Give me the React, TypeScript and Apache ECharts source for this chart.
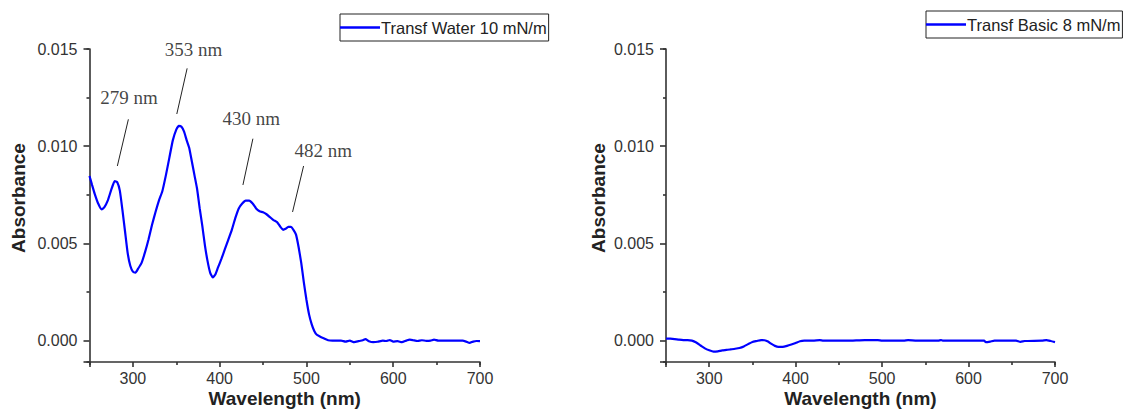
import React, { useEffect, useRef } from "react";
import * as echarts from "echarts";

const waterX = [250,253,256,260,264,267,271,275,279,282,285,288,291,294,297,300,303,306,310,314,318,322,326,330,334,338,342,346,350,353,356,359,362,365,368,371,374,377,380,383,386,389,392,395,398,402,406,410,414,418,422,426,430,434,438,442,446,450,454,458,462,466,470,473,476,479,482,485,488,491,494,497,500,503,506,509,512,516,520,525,530,540,545,550,555,560,565,568,572,577,582,588,592,596,600,605,610,615,619,623,628,633,638,643,647,652,660,670,680,684,688,692,696,700];
const waterY = [8.47,8.0,7.55,7.05,6.75,6.85,7.2,7.75,8.2,8.15,7.7,6.7,5.6,4.5,3.85,3.55,3.5,3.7,4.0,4.55,5.2,5.95,6.6,7.2,7.7,8.5,9.4,10.3,10.85,11.05,11.0,10.75,10.3,9.9,9.2,8.5,7.8,6.8,5.9,4.9,4.1,3.5,3.25,3.4,3.75,4.2,4.7,5.2,5.7,6.3,6.8,7.05,7.2,7.2,7.05,6.8,6.65,6.6,6.5,6.35,6.2,6.1,5.85,5.7,5.75,5.85,5.85,5.7,5.45,4.8,4.0,3.0,2.1,1.35,0.85,0.5,0.3,0.2,0.12,0.02,0.0,0.0,-0.05,0.0,-0.08,-0.03,0.02,0.08,-0.03,-0.08,-0.06,0.0,-0.02,0.03,-0.05,-0.03,-0.08,0.0,0.05,0.02,-0.02,0.02,-0.01,0.0,0.05,0.0,0.0,0.0,0.0,-0.05,-0.12,-0.05,-0.02,-0.03];

const basicX = [250,255,260,265,270,275,280,285,290,295,300,305,310,315,320,325,330,335,340,345,350,355,360,364,368,372,376,380,385,390,395,400,405,410,420,428,432,450,460,480,495,500,525,530,540,565,568,570,600,618,620,625,630,655,660,665,685,690,695,700];
const basicY = [0.1,0.1,0.08,0.05,0.03,0.03,0.0,-0.1,-0.25,-0.4,-0.5,-0.57,-0.55,-0.5,-0.48,-0.45,-0.42,-0.38,-0.3,-0.18,-0.07,-0.02,0.03,0.02,-0.05,-0.17,-0.27,-0.32,-0.32,-0.27,-0.2,-0.12,-0.03,0.0,0.0,0.03,0.0,0.0,0.0,0.03,0.03,0.0,0.0,0.03,0.0,0.0,0.03,0.0,0.0,0.0,-0.08,-0.05,0.0,0.0,-0.06,-0.02,0.0,0.03,-0.02,-0.08];

const waterName = "Transf Water 10 mN/m";
const basicName = "Transf Basic 8 mN/m";

const xMajorTicks = [300, 400, 500, 600, 700];
const yMajorTicks = [0, 0.005, 0.01, 0.015];

const peakLabels = ["279 nm", "353 nm", "430 nm", "482 nm"];
const peakLabelPos = [[295.6, 0.01248], [370, 0.01495], [436.4, 0.0114], [519.5, 0.00976]];
const pointerStart = [[294.8, 0.011383], [362.5, 0.014005], [438.3, 0.010386], [496.7, 0.008982]];
const pointerEnd = [[282.1, 0.008982], [350.6, 0.011656], [426.8, 0.008005], [484.0, 0.006617]];

const X_MIN = 250, X_MAX = 700, Y_MIN = -0.0011, Y_MAX = 0.015;
// minor-tick helper axes: shifted copies of the same ranges, so that their nice ticks fall on 350, 450… and 0.0025, 0.0075…
const X_MINOR_SHIFT = 250;
const Y_MINOR_SHIFT = 0.0025;
const SANS = 'Arial, "Liberation Sans", sans-serif';
const SERIF = '"Times New Roman", "Liberation Serif", serif';

export default function App() {
  const ref = useRef<HTMLDivElement>(null);
  useEffect(() => {
    if (!ref.current) return;
    const chart = echarts.init(ref.current, undefined, { renderer: "svg" });
    const toPairs = (xs: number[], ys: number[]) => xs.map((x, i) => [x, ys[i] / 1000]);
    const grids = [
      { left: 89.5, top: 49, width: 390.5, height: 313, outerBoundsMode: "none", containLabel: false },
      { left: 666, top: 49, width: 389, height: 313, outerBoundsMode: "none", containLabel: false },
    ];
    const axisColor = "#333";
    const lineSt = { color: axisColor, width: 1.6 };
    const nameStyle = { fontFamily: SANS, fontWeight: "bold", fontSize: 19, color: "#222" };
    const labelStyle = { fontFamily: SANS, fontSize: 16, color: "#333" };
    const xAxes: any[] = [];
    const yAxes: any[] = [];
    [0, 1].forEach((g) => {
      xAxes.push({
        type: "value", gridIndex: g, min: X_MIN, max: X_MAX, splitNumber: 5, position: "bottom",
        name: "Wavelength (nm)", nameLocation: "middle", nameGap: 27, nameMoveOverlap: false, nameTextStyle: nameStyle,
        axisLine: { show: true, onZero: false, lineStyle: lineSt },
        axisTick: { show: true, length: 5, lineStyle: lineSt },
        axisLabel: { show: true, customValues: xMajorTicks, margin: 8, ...labelStyle },
        splitLine: { show: false },
      });
      xAxes.push({
        type: "value", gridIndex: g, min: X_MIN - X_MINOR_SHIFT, max: X_MAX - X_MINOR_SHIFT, interval: 100, position: "bottom",
        axisLine: { show: false, onZero: false },
        axisTick: { show: true, length: 3, lineStyle: lineSt },
        axisLabel: { show: false },
        splitLine: { show: false },
      });
      yAxes.push({
        type: "value", gridIndex: g, min: Y_MIN, max: Y_MAX, splitNumber: 3, position: "left",
        axisLine: { show: true, onZero: false, lineStyle: lineSt },
        axisTick: { show: true, length: 6, lineStyle: lineSt },
        axisLabel: { show: true, customValues: yMajorTicks, margin: 12, ...labelStyle, formatter: (v: number) => v.toFixed(3) },
        splitLine: { show: false },
      });
      yAxes.push({
        type: "value", gridIndex: g, min: Y_MIN + Y_MINOR_SHIFT, max: Y_MAX + Y_MINOR_SHIFT, splitNumber: 3, position: "left", offset: 0,
        axisLine: { show: false, onZero: false },
        axisTick: { show: true, length: 3, lineStyle: lineSt },
        axisLabel: { show: false },
        splitLine: { show: false },
      });
    });

    const lineCommon = {
      type: "line", symbol: "none", showSymbol: false,
      lineStyle: { color: "#0000ff", width: 2.2 }, itemStyle: { color: "#0000ff" },
      smooth: 0.15,
    };

    const legendCommon = {
      orient: "horizontal", icon: "rect", itemWidth: 40, itemHeight: 2.5, itemGap: 0,
      borderColor: "#222", borderWidth: 1, padding: [5, 2, 5, 0],
      textStyle: { fontFamily: SANS, fontSize: 16.5, color: "#222", padding: [0, 0, 0, -4] },
      backgroundColor: "#fff",
    };

    chart.setOption({
      animation: false,
      backgroundColor: "#fff",
      grid: grids,
      xAxis: xAxes,
      yAxis: yAxes,
      legend: [
        { ...legendCommon, data: [waterName], left: 340, top: 14 },
        { ...legendCommon, data: [basicName], left: 926, top: 11 },
      ],
      graphic: [
        { type: "text", x: 18, y: 198, rotation: Math.PI / 2, style: { text: "Absorbance", font: `bold 19px ${SANS}`, fill: "#222", align: "center", verticalAlign: "middle" } },
        { type: "text", x: 598, y: 198, rotation: Math.PI / 2, style: { text: "Absorbance", font: `bold 19px ${SANS}`, fill: "#222", align: "center", verticalAlign: "middle" } },
      ],
      series: [
        {
          ...lineCommon, name: waterName, xAxisIndex: 0, yAxisIndex: 0,
          data: toPairs(waterX, waterY),
          markLine: {
            silent: true, symbol: ["none", "none"], label: { show: false },
            lineStyle: { color: "#222", width: 1, type: "solid" },
            data: pointerStart.map((s, i) => [{ coord: s }, { coord: pointerEnd[i] }]),
          },
        },
        {
          type: "scatter", name: "peaks", xAxisIndex: 0, yAxisIndex: 0, silent: true,
          symbolSize: 1, itemStyle: { color: "rgba(0,0,0,0)" },
          data: peakLabelPos.map((p, i) => [p[0], p[1], peakLabels[i]]),
          label: { show: true, position: "inside", formatter: (p: any) => p.value[2], fontFamily: SERIF, fontSize: 19, color: "#111" },
        },
        { ...lineCommon, name: basicName, xAxisIndex: 2, yAxisIndex: 2, data: toPairs(basicX, basicY) },
      ],
    });
    return () => chart.dispose();
  }, []);
  return <div ref={ref} style={{ position: "absolute", left: 0, top: 0, width: 1126, height: 410, background: "#fff" }} />;
}
